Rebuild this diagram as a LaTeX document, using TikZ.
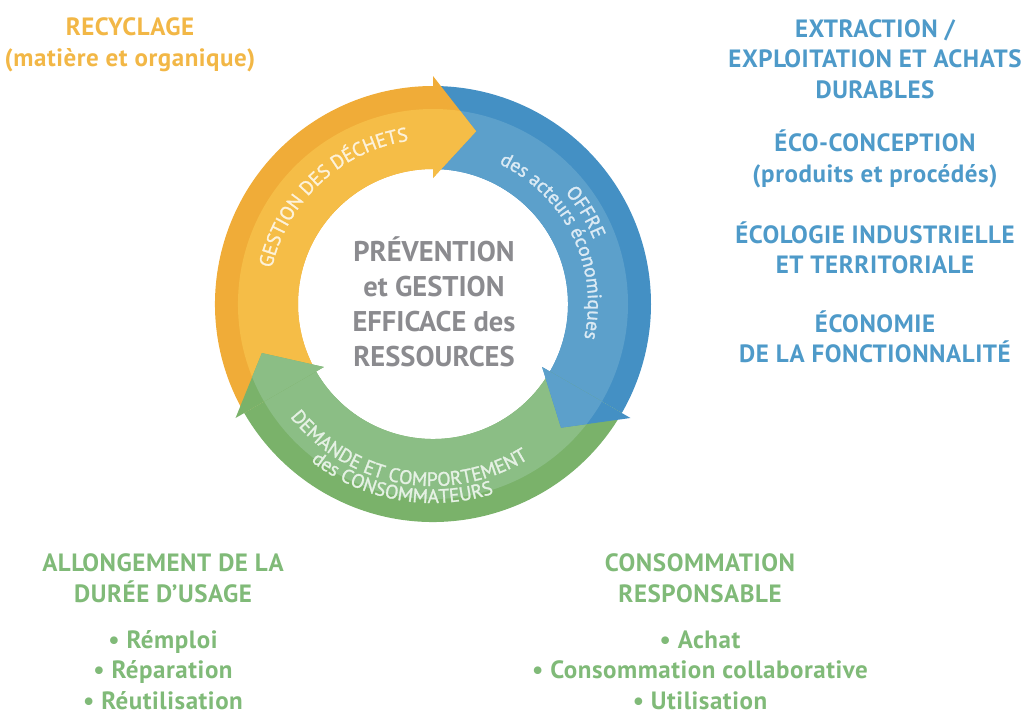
\documentclass[tikz,border=0pt]{standalone}
\usepackage{fontspec}
\setmainfont{PT Sans}
\usetikzlibrary{decorations.text}

\definecolor{orgdark}{HTML}{F0AC38}
\definecolor{orglight}{HTML}{F5BD47}
\definecolor{bluedark}{HTML}{4490C4}
\definecolor{bluelight}{HTML}{5CA0CB}
\definecolor{grndark}{HTML}{7AB26A}
\definecolor{grnlight}{HTML}{8BBE85}
\definecolor{orgtext}{HTML}{F2B746}
\definecolor{bluetext}{HTML}{4E9AC9}
\definecolor{grntext}{HTML}{80BA78}
\definecolor{graytext}{HTML}{8B8B8F}
\colorlet{orgring}{white!80!orglight}
\colorlet{bluering}{white!78!bluelight}
\colorlet{grnring}{white!78!grnlight}

% band of one arrow: tail angle, back of head, dark, light
\newcommand{\ringbody}[4]{
	\fill[#3] (#1:218) arc (#1:#2:218) -- (#2:135) arc (#2:#1:135) -- cycle;
	\fill[#4] (#1:195) arc (#1:#2:195) -- (#2:135) arc (#2:#1:135) -- cycle;
}
% head of one arrow: back angle, tip angle, dark, light
\newcommand{\ringhead}[4]{
	\fill[#3] (#1:228) -- (#2:178) -- (#1:126) -- cycle;
	\begin{scope}
		\clip (0,0) circle (195);
		\fill[#4] (#1:228) -- (#2:178) -- (#1:126) -- cycle;
	\end{scope}
}
\newcommand{\ringfont}{\fontsize{19.5}{19.5}\selectfont\addfontfeature{FakeBold=1.3}}

\begin{document}
\begin{tikzpicture}[x=1pt, y=1pt,
	bigtxt/.style={align=center, inner sep=1pt, font=\bfseries\fontsize{25}{30.5}\selectfont\addfontfeature{LetterSpace=2.2}},
	midtxt/.style={align=center, text=graytext, font=\bfseries\fontsize{28.5}{35}\selectfont}]
	\useasboundingbox (-433, 304) rectangle (594, -409);

	\ringbody{210}{90}{orgdark}{orglight}
	\ringbody{90}{-30}{bluedark}{bluelight}
	\ringbody{-30}{-150}{grndark}{grnlight}
	\ringhead{90}{76}{orgdark}{orglight}
	\ringhead{-30}{-44}{bluedark}{bluelight}
	\ringhead{210}{196}{grndark}{grnlight}

	% texts on the ring
	\path[decorate, decoration={text along path, text align=center,
		text={|\color{orgring}\ringfont|GESTION DES DÉCHETS}}]
		(175:165) arc (175:91:165);
	\path[decorate, decoration={text along path, text align=center,
		text={|\color{bluering}\ringfont|OFFRE}}]
		(70:173) arc (70:-8:173);
	\path[decorate, decoration={text along path, text align=center,
		text={|\color{bluering}\ringfont|des acteurs économiques}}]
		(75:155) arc (75:-23:155);
	\path[decorate, decoration={text along path, text align=center,
		text={|\color{grnring}\ringfont|DEMANDE ET COMPORTEMENT}}]
		(195:182) arc (195:325:182);
	\path[decorate, decoration={text along path, text align=center,
		text={|\color{grnring}\ringfont|des CONSOMMATEURS}}]
		(205:199) arc (205:315:199);

	\node[midtxt] (centre) at (1, 2) {PRÉVENTION\\et GESTION\\EFFICACE des\\RESSOURCES};

	\node[bigtxt, text=orgtext] (recyclage) at (-303, 259) {RECYCLAGE\\(matière et organique)};

	\node[bigtxt, text=bluetext] (extraction) at (442, 245) {EXTRACTION /\\EXPLOITATION ET ACHATS\\DURABLES};
	\node[bigtxt, text=bluetext] (ecoconception) at (442, 145) {ÉCO-CONCEPTION\\(produits et procédés)};
	\node[bigtxt, text=bluetext] (ecologie) at (442, 56) {ÉCOLOGIE INDUSTRIELLE\\ET TERRITORIALE};
	\node[bigtxt, text=bluetext] (economie) at (442, -33) {ÉCONOMIE\\DE LA FONCTIONNALITÉ};

	\node[bigtxt, text=grntext] (allongement) at (-270, -274) {ALLONGEMENT DE LA\\DURÉE D’USAGE};
	\node[bigtxt, text=grntext] (usages) at (-270, -366) {• Rémploi\\• Réparation\\• Réutilisation};

	\node[bigtxt, text=grntext] (consommation) at (267, -274) {CONSOMMATION\\RESPONSABLE};
	\node[bigtxt, text=grntext] (achats) at (267, -366) {• Achat\\• Consommation collaborative\\• Utilisation};
\end{tikzpicture}
\end{document}
